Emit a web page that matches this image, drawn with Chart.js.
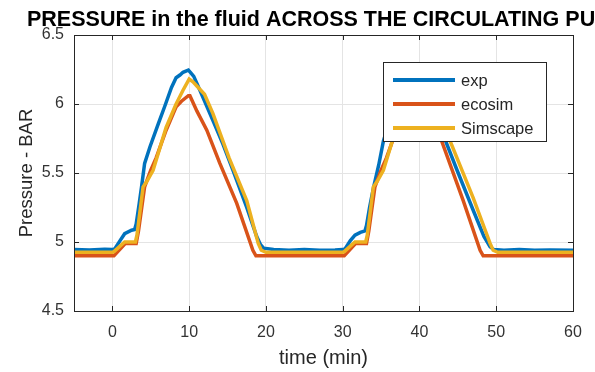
<!DOCTYPE html>
<html>
<head>
<meta charset="utf-8">
<script src="https://cdn.jsdelivr.net/npm/chart.js@4.4.1/dist/chart.umd.min.js"></script>
<style>
  html, body { margin: 0; padding: 0; background: #fff; }
  #wrap { width: 595px; height: 372px; position: relative; }
</style>
</head>
<body>
<div id="wrap"><canvas id="myChart"></canvas></div>
<script>
// data (time in min, pressure in bar)
const expTime = [-5, -3, -1, 0, 0.3, 1.0, 1.6, 2.5, 2.9, 3.1, 3.5, 3.8, 4.2, 4.9, 6.0, 6.8, 7.7, 8.3, 8.8, 9.2, 9.9, 10.3, 10.6, 11.4, 13.1, 14.4, 15.7, 17.5, 18.8, 19.3, 19.7, 21, 23, 25, 27, 29,
  30, 30.3, 31.0, 31.6, 32.3, 32.9, 33.1, 33.5, 34.0, 34.7, 35.3, 36.0, 36.8, 37.7, 38.3, 38.8, 39.2, 39.9, 40.3, 40.6, 41.4, 42.6, 43.35, 44.9, 47.0, 48.4, 49.2, 49.7, 51, 53, 55, 57, 60];
const expPressure = [4.945, 4.942, 4.947, 4.945, 4.95, 5.01, 5.06, 5.085, 5.09, 5.13, 5.28, 5.40, 5.57, 5.69, 5.86, 5.98, 6.12, 6.19, 6.21, 6.23, 6.245, 6.22, 6.20, 6.10, 5.88, 5.71, 5.52, 5.25, 5.04, 4.98, 4.955, 4.945, 4.94, 4.945, 4.94, 4.942,
  4.945, 4.95, 5.01, 5.05, 5.07, 5.08, 5.12, 5.25, 5.39, 5.56, 5.73, 5.86, 5.98, 6.12, 6.19, 6.21, 6.23, 6.245, 6.22, 6.19, 6.07, 5.88, 5.74, 5.52, 5.23, 5.04, 4.965, 4.945, 4.94, 4.945, 4.94, 4.942, 4.94];

const ecosimTime = [-5, 0, 0.2, 1.7, 3.1, 3.4, 4.2, 5.0, 5.7, 7.0, 8.3, 9.0, 9.9, 10.1, 11.0, 12.3, 14.0, 16.2, 18.3, 18.7, 25, 30,
  30.2, 31.7, 33.1, 33.4, 34.2, 35.0, 35.7, 37.0, 38.3, 39.0, 39.9, 40.1, 40.8, 42.0, 42.9, 45.7, 47.9, 48.3, 55, 60];
const ecosimPressure = [4.90, 4.90, 4.90, 4.99, 4.99, 5.08, 5.40, 5.52, 5.61, 5.81, 5.98, 6.02, 6.06, 6.06, 5.95, 5.81, 5.57, 5.28, 4.94, 4.90, 4.90, 4.90,
  4.90, 4.99, 4.99, 5.08, 5.40, 5.52, 5.61, 5.81, 5.98, 6.02, 6.06, 6.06, 5.95, 5.81, 5.73, 5.30, 4.94, 4.90, 4.90, 4.90];

const simscapeTime = [-5, 0, 0.2, 1.6, 3.0, 3.2, 4.0, 4.5, 5.3, 7.0, 8.3, 9.2, 10.0, 10.5, 11.0, 12.0, 13.1, 15.2, 17.5, 19.0, 19.4, 20, 25, 30,
  30.2, 31.6, 33.0, 33.2, 34.0, 34.5, 35.3, 37.0, 38.3, 39.2, 40.0, 40.5, 41.0, 42.0, 43.0, 44.0, 47.0, 49.2, 49.6, 50.2, 55, 60];
const simscapePressure = [4.925, 4.925, 4.93, 5.0, 5.0, 5.05, 5.40, 5.44, 5.52, 5.83, 6.0, 6.10, 6.18, 6.16, 6.13, 6.07, 5.93, 5.61, 5.30, 4.99, 4.94, 4.925, 4.925, 4.925,
  4.93, 5.0, 5.0, 5.05, 5.40, 5.44, 5.52, 5.83, 6.0, 6.10, 6.18, 6.16, 6.13, 6.07, 5.93, 5.73, 5.32, 4.99, 4.94, 4.925, 4.925, 4.925];

const xTicks = [0, 10, 20, 30, 40, 50, 60];
const yTicks = [4.5, 5, 5.5, 6, 6.5];
const yTickLabels = ["4.5", "5", "5.5", "6", "6.5"];
const seriesNames = ["exp", "ecosim", "Simscape"];
const seriesColors = ["#0072BD", "#D95319", "#EDB120"];
const chartTitle = "PRESSURE in the fluid ACROSS THE CIRCULATING PUMP";

function toPoints(xs, ys) {
  return xs.map((x, i) => ({ x: x, y: ys[i] }));
}

const FONT = '"Liberation Sans", Arial, Helvetica, sans-serif';
Chart.defaults.font.family = FONT;
Chart.defaults.color = "#262626";

// box, inner ticks, title and legend like the matlab figure
const matlabFrame = {
  id: "matlabFrame",
  afterDatasetsDraw(chart) {
    const { ctx, chartArea: a, scales } = chart;
    ctx.save();
    ctx.strokeStyle = "#262626";
    ctx.lineWidth = 1;
    ctx.beginPath();
    xTicks.forEach((t) => {
      const px = Math.round(scales.x.getPixelForValue(t)) + 0.5;
      ctx.moveTo(px, a.bottom); ctx.lineTo(px, a.bottom - 5);
      ctx.moveTo(px, a.top); ctx.lineTo(px, a.top + 5);
    });
    yTicks.forEach((t) => {
      const py = Math.round(scales.y.getPixelForValue(t)) + 0.5;
      ctx.moveTo(a.left, py); ctx.lineTo(a.left + 5, py);
      ctx.moveTo(a.right, py); ctx.lineTo(a.right - 5, py);
    });
    ctx.stroke();
    ctx.strokeRect(Math.round(a.left) + 0.5, Math.round(a.top) + 0.5,
      Math.round(a.right - a.left), Math.round(a.bottom - a.top));

    // legend
    const lx = a.left + 309, ly = a.top + 27, lw = 163, lh = 79;
    ctx.fillStyle = "#fff";
    ctx.fillRect(lx, ly, lw, lh);
    ctx.strokeStyle = "#262626";
    ctx.strokeRect(lx + 0.5, ly + 0.5, lw, lh);
    ctx.font = "16.5px " + FONT;
    ctx.textBaseline = "middle";
    ctx.textAlign = "left";
    seriesNames.forEach((name, i) => {
      const y = ly + 18 + i * 24;
      ctx.strokeStyle = seriesColors[i];
      ctx.lineWidth = 4;
      ctx.beginPath();
      ctx.moveTo(lx + 10, y); ctx.lineTo(lx + 72, y);
      ctx.stroke();
      ctx.fillStyle = "#262626";
      ctx.fillText(name, lx + 78, y + 1);
    });

    // title
    ctx.fillStyle = "#000";
    ctx.font = "bold 21.5px " + FONT;
    ctx.fillText(chartTitle, 27, 20);
    ctx.restore();
  },
};

const ctx = document.getElementById("myChart").getContext("2d");

new Chart(ctx, {
  type: "line",
  data: {
    datasets: [
      { label: seriesNames[0], data: toPoints(expTime, expPressure), borderColor: seriesColors[0], order: 3 },
      { label: seriesNames[1], data: toPoints(ecosimTime, ecosimPressure), borderColor: seriesColors[1], order: 2 },
      { label: seriesNames[2], data: toPoints(simscapeTime, simscapePressure), borderColor: seriesColors[2], order: 1 },
    ],
  },
  options: {
    responsive: true,
    maintainAspectRatio: false,
    animation: false,
    datasets: {
      line: { borderWidth: 3.5, pointRadius: 0, tension: 0, fill: false },
    },
    layout: { padding: { top: 35, right: 22, left: 0, bottom: 0 } },
    plugins: {
      legend: { display: false },
      tooltip: { enabled: false },
    },
    scales: {
      x: {
        type: "linear",
        min: -5,
        max: 60,
        afterBuildTicks: (s) => { s.ticks = xTicks.map((v) => ({ value: v })); },
        afterFit: (s) => { s.height = 61; },
        border: { display: false },
        grid: { color: "#e4e4e4", drawTicks: false, lineWidth: 1 },
        ticks: { padding: 12, font: { size: 16 }, color: "#333" },
        title: {
          display: true,
          text: "time (min)",
          font: { size: 20, lineHeight: 1 },
          color: "#262626",
          padding: { top: 0, bottom: 4 },
        },
      },
      y: {
        min: 4.5,
        max: 6.5,
        afterBuildTicks: (s) => { s.ticks = yTicks.map((v) => ({ value: v })); },
        afterFit: (s) => { s.width = 74; },
        border: { display: false },
        grid: { color: "#e4e4e4", drawTicks: false, lineWidth: 1 },
        ticks: {
          padding: 10,
          font: { size: 16 },
          color: "#333",
          callback: (v) => yTickLabels[yTicks.indexOf(v)],
        },
        title: {
          display: true,
          text: "Pressure - BAR",
          font: { size: 18.5 },
          color: "#262626",
          padding: { top: 16, bottom: 0 },
        },
      },
    },
  },
  plugins: [matlabFrame],
});
</script>
</body>
</html>
